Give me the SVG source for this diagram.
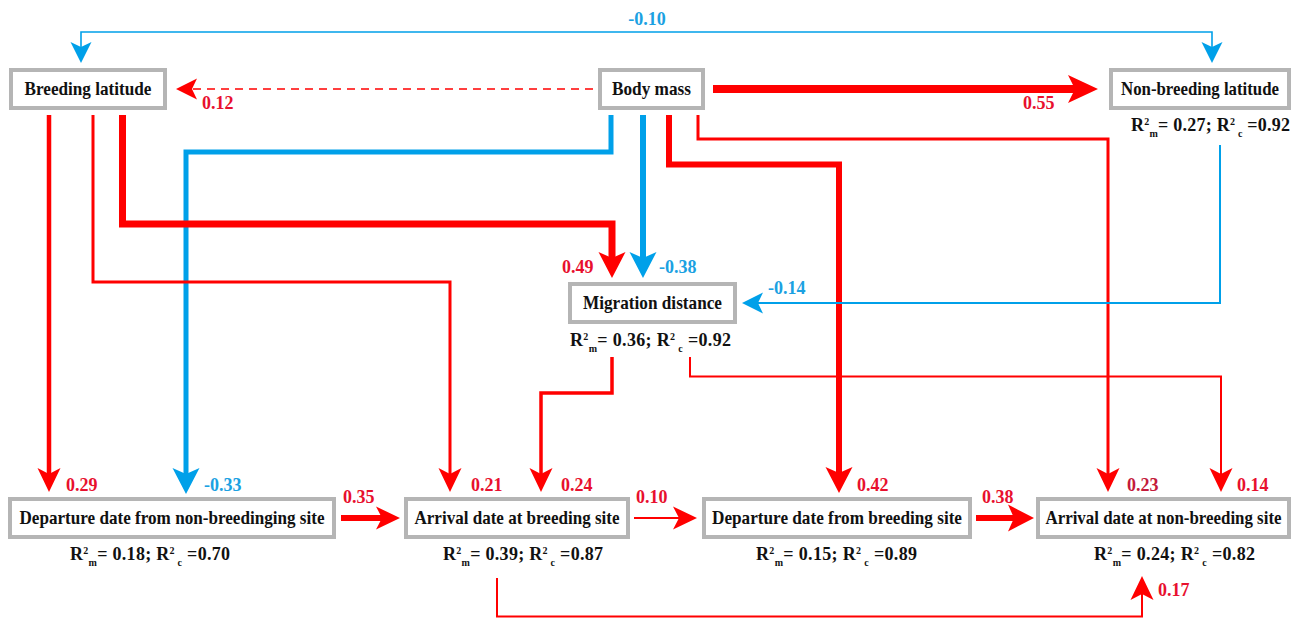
<svg xmlns="http://www.w3.org/2000/svg" width="1304" height="618" viewBox="0 0 1304 618">
  <style>
    .box { fill: #ffffff; stroke: #b5b5b5; stroke-width: 4; }
    text { font-family: "Times New Roman", "Liberation Serif", Times, "DejaVu Serif", serif; font-weight: bold; }
    .lbl { font-size: 19px; fill: #111111; text-anchor: middle; }
    .r2 { font-size: 18px; fill: #111111; }
    .s { font-size: 10px; }
    .coef { font-size: 18px; }
    .cr { fill: #e8102e; }
    .cr2 { fill: #c41a3b; }
    .cb { fill: #1ba1e2; }
    .red { fill: none; stroke: #ff0000; stroke-linejoin: miter; stroke-linecap: butt; }
    .blue { fill: none; stroke: #00a0e9; stroke-linejoin: miter; stroke-linecap: butt; }
  </style>
  <defs>
    <!-- notched arrowheads; refX sits on the notch so the shaft ends inside the head -->
    <marker id="ms-red" markerUnits="userSpaceOnUse" markerWidth="21" markerHeight="21" refX="5" refY="10.5" orient="auto" overflow="visible">
      <path d="M0,0 L21,10.5 L0,21 L5,10.5 Z" fill="#ff0000"/>
    </marker>
    <marker id="ms-blue" markerUnits="userSpaceOnUse" markerWidth="21" markerHeight="21" refX="5" refY="10.5" orient="auto-start-reverse" overflow="visible">
      <path d="M0,0 L21,10.5 L0,21 L5,10.5 Z" fill="#00a0e9"/>
    </marker>
    <marker id="mm-red" markerUnits="userSpaceOnUse" markerWidth="24" markerHeight="23" refX="6" refY="11.5" orient="auto" overflow="visible">
      <path d="M0,0 L24,11.5 L0,23 L6,11.5 Z" fill="#ff0000"/>
    </marker>
    <marker id="ml-red" markerUnits="userSpaceOnUse" markerWidth="26" markerHeight="27" refX="6" refY="13.5" orient="auto" overflow="visible">
      <path d="M0,0 L26,13.5 L0,27 L6,13.5 Z" fill="#ff0000"/>
    </marker>
    <marker id="ml-blue" markerUnits="userSpaceOnUse" markerWidth="26" markerHeight="27" refX="6" refY="13.5" orient="auto" overflow="visible">
      <path d="M0,0 L26,13.5 L0,27 L6,13.5 Z" fill="#00a0e9"/>
    </marker>
    <marker id="mxl-red" markerUnits="userSpaceOnUse" markerWidth="30" markerHeight="28" refX="7" refY="14" orient="auto" overflow="visible">
      <path d="M0,0 L30,14 L0,28 L7,14 Z" fill="#ff0000"/>
    </marker>
  </defs>

  <g id="connectors">
    <!-- breeding latitude <-> non-breeding latitude -->
    <path class="blue" stroke-width="1.6" d="M81,47 V32 H1212 V47" marker-start="url(#ms-blue)" marker-end="url(#ms-blue)"/>
    <!-- body mass -> breeding latitude (dashed) -->
    <path class="red" stroke-width="1.6" stroke-dasharray="8 6" d="M593,89 H192" marker-end="url(#ms-red)"/>
    <!-- body mass -> non-breeding latitude -->
    <path class="red" stroke-width="8" d="M713,89 H1075" marker-end="url(#mxl-red)"/>
    <!-- body mass -> departure date from non-breeding site -->
    <path class="blue" stroke-width="5" d="M611,115 V152 H186 V474" marker-end="url(#ml-blue)"/>
    <!-- body mass -> migration distance -->
    <path class="blue" stroke-width="6" d="M643,115 V258" marker-end="url(#ml-blue)"/>
    <!-- body mass -> departure date from breeding site -->
    <path class="red" stroke-width="6" d="M669,115 V164.5 H839 V473" marker-end="url(#ml-red)"/>
    <!-- body mass -> arrival date at non-breeding site -->
    <path class="red" stroke-width="3" d="M698,115 V139 H1108 V474" marker-end="url(#mm-red)"/>
    <!-- breeding latitude -> departure date from non-breeding site -->
    <path class="red" stroke-width="4.5" d="M49,115 V474" marker-end="url(#mm-red)"/>
    <!-- breeding latitude -> arrival date at breeding site -->
    <path class="red" stroke-width="3" d="M93,115 V282 H450 V474" marker-end="url(#mm-red)"/>
    <!-- breeding latitude -> migration distance -->
    <path class="red" stroke-width="7" d="M122.5,115 V224 H612 V258" marker-end="url(#ml-red)"/>
    <!-- non-breeding latitude -> migration distance -->
    <path class="blue" stroke-width="2" d="M1220,145 V303 H758" marker-end="url(#ms-blue)"/>
    <!-- migration distance -> arrival date at breeding site -->
    <path class="red" stroke-width="3.5" d="M612,357 V393 H541 V474" marker-end="url(#mm-red)"/>
    <!-- migration distance -> arrival date at non-breeding site -->
    <path class="red" stroke-width="2" d="M690,357 V376.5 H1221 V474" marker-end="url(#mm-red)"/>
    <!-- sequence along the bottom row -->
    <path class="red" stroke-width="6" d="M341,518 H382" marker-end="url(#mm-red)"/>
    <path class="red" stroke-width="2" d="M634,518 H679" marker-end="url(#mm-red)"/>
    <path class="red" stroke-width="6" d="M976,518 H1014" marker-end="url(#ml-red)"/>
    <!-- arrival date at breeding site -> arrival date at non-breeding site -->
    <path class="red" stroke-width="2" d="M497,578 V616.5 H1142 V594" marker-end="url(#mm-red)"/>
  </g>

  <g id="coefficients" class="coef">
    <text class="coef cb" x="647" y="25" text-anchor="middle">-0.10</text>
    <text class="coef cr" x="202" y="109">0.12</text>
    <text class="coef cr" x="1023" y="109">0.55</text>
    <text class="coef cr" x="66" y="491">0.29</text>
    <text class="coef cb" x="204" y="491">-0.33</text>
    <text class="coef cr" x="343" y="503">0.35</text>
    <text class="coef cr" x="471" y="491">0.21</text>
    <text class="coef cr" x="561" y="491">0.24</text>
    <text class="coef cr" x="636" y="503">0.10</text>
    <text class="coef cr" x="857" y="491">0.42</text>
    <text class="coef cr" x="982" y="503">0.38</text>
    <text class="coef cr2" x="1127" y="491">0.23</text>
    <text class="coef cr" x="1237" y="491">0.14</text>
    <text class="coef cr" x="1158" y="596">0.17</text>
    <text class="coef cr" x="562" y="273">0.49</text>
    <text class="coef cb" x="659" y="273">-0.38</text>
    <text class="coef cb" x="768" y="294">-0.14</text>
  </g>

  <g id="breeding-latitude">
    <rect class="box" x="11" y="70" width="154" height="38"/>
    <text class="lbl" x="88" y="95" textLength="127" lengthAdjust="spacingAndGlyphs">Breeding latitude</text>
  </g>

  <g id="body-mass">
    <rect class="box" x="600" y="70" width="103" height="38"/>
    <text class="lbl" x="651.5" y="95" textLength="79" lengthAdjust="spacingAndGlyphs">Body mass</text>
  </g>

  <g id="non-breeding-latitude">
    <rect class="box" x="1111" y="70" width="178" height="38"/>
    <text class="lbl" x="1200" y="95" textLength="158" lengthAdjust="spacingAndGlyphs">Non-breeding latitude</text>
    <text class="r2" x="1131" y="131" textLength="159" lengthAdjust="spacing">R<tspan class="s" dy="-6">2</tspan><tspan class="s" font-size="11" dy="12">m</tspan><tspan dy="-6">= 0.27; R</tspan><tspan class="s" dy="-6">2</tspan><tspan class="s" font-size="11" dy="12"> c</tspan><tspan dy="-6"> =0.92</tspan></text>
  </g>

  <g id="migration-distance">
    <rect class="box" x="570" y="284" width="165" height="38"/>
    <text class="lbl" x="652.5" y="309" textLength="139" lengthAdjust="spacingAndGlyphs">Migration distance</text>
    <text class="r2" x="570" y="346" textLength="161" lengthAdjust="spacing">R<tspan class="s" dy="-6">2</tspan><tspan class="s" font-size="11" dy="12">m</tspan><tspan dy="-6">= 0.36; R</tspan><tspan class="s" dy="-6">2</tspan><tspan class="s" font-size="11" dy="12"> c</tspan><tspan dy="-6"> =0.92</tspan></text>
  </g>

  <g id="departure-non-breeding">
    <rect class="box" x="10" y="499" width="324" height="38"/>
    <text class="lbl" x="172" y="524" textLength="305" lengthAdjust="spacingAndGlyphs">Departure date from non-breedinging site</text>
    <text class="r2" x="70" y="560" textLength="160" lengthAdjust="spacing">R<tspan class="s" dy="-6">2</tspan><tspan class="s" font-size="11" dy="12">m</tspan><tspan dy="-6">= 0.18; R</tspan><tspan class="s" dy="-6">2</tspan><tspan class="s" font-size="11" dy="12"> c</tspan><tspan dy="-6"> =0.70</tspan></text>
  </g>

  <g id="arrival-breeding">
    <rect class="box" x="406" y="499" width="222" height="38"/>
    <text class="lbl" x="517" y="524" textLength="205" lengthAdjust="spacingAndGlyphs">Arrival date at breeding site</text>
    <text class="r2" x="443" y="560" textLength="160" lengthAdjust="spacing">R<tspan class="s" dy="-6">2</tspan><tspan class="s" font-size="11" dy="12">m</tspan><tspan dy="-6">= 0.39; R</tspan><tspan class="s" dy="-6">2</tspan><tspan class="s" font-size="11" dy="12"> c</tspan><tspan dy="-6"> =0.87</tspan></text>
  </g>

  <g id="departure-breeding">
    <rect class="box" x="704" y="499" width="266" height="38"/>
    <text class="lbl" x="837" y="524" textLength="250" lengthAdjust="spacingAndGlyphs">Departure date from breeding site</text>
    <text class="r2" x="756" y="560" textLength="161" lengthAdjust="spacing">R<tspan class="s" dy="-6">2</tspan><tspan class="s" font-size="11" dy="12">m</tspan><tspan dy="-6">= 0.15; R</tspan><tspan class="s" dy="-6">2</tspan><tspan class="s" font-size="11" dy="12"> c</tspan><tspan dy="-6"> =0.89</tspan></text>
  </g>

  <g id="arrival-non-breeding">
    <rect class="box" x="1038" y="499" width="251" height="38"/>
    <text class="lbl" x="1163.5" y="524" textLength="236" lengthAdjust="spacingAndGlyphs">Arrival date at non-breeding site</text>
    <text class="r2" x="1094" y="560" textLength="161" lengthAdjust="spacing">R<tspan class="s" dy="-6">2</tspan><tspan class="s" font-size="11" dy="12">m</tspan><tspan dy="-6">= 0.24; R</tspan><tspan class="s" dy="-6">2</tspan><tspan class="s" font-size="11" dy="12"> c</tspan><tspan dy="-6"> =0.82</tspan></text>
  </g>
</svg>
